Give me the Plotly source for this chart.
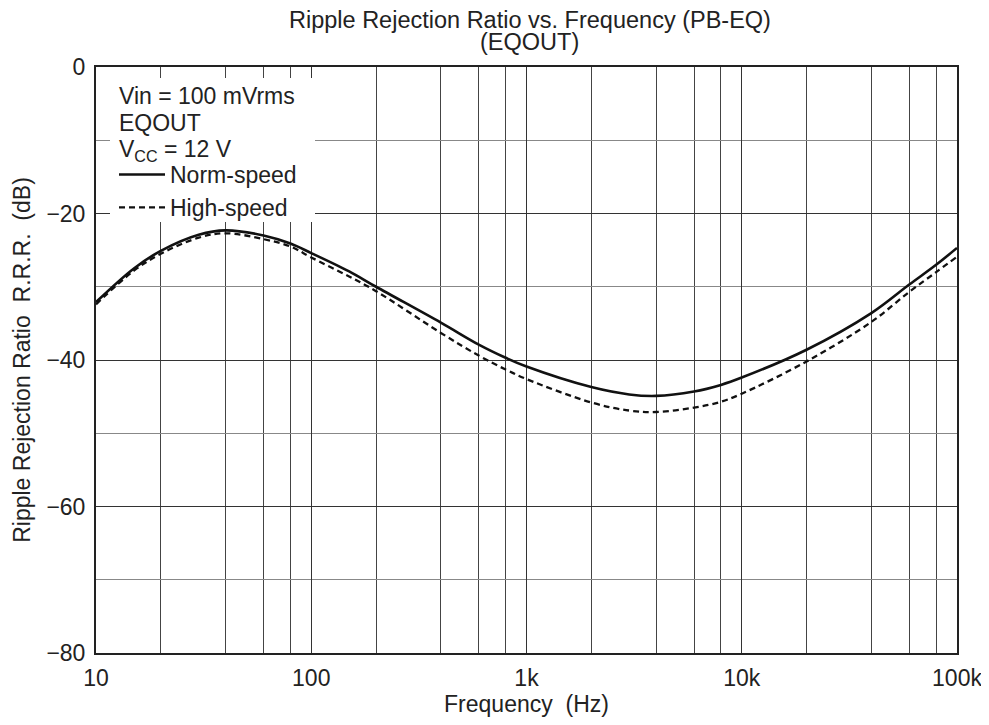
import plotly.graph_objects as go

# Data
freq_hz = [10, 15, 20, 30, 40, 60, 80, 100, 150, 200, 400, 600, 800, 1000, 2000, 3000,
           4000, 6000, 8000, 10000, 20000, 40000, 60000, 80000, 100000]
norm_speed_db = [-32.1, -27.5, -25.1, -22.9, -22.3, -23.0, -24.1, -25.4, -27.9, -30.0,
                 -34.9, -37.9, -39.7, -40.9, -43.7, -44.7, -44.9, -44.3, -43.4, -42.4,
                 -38.6, -33.6, -29.7, -27.0, -24.7]
high_speed_db = [-32.4, -27.8, -25.5, -23.3, -22.7, -23.5, -24.5, -26.0, -28.6, -30.6,
                 -36.3, -39.4, -41.3, -42.6, -45.8, -46.9, -47.1, -46.5, -45.7, -44.6,
                 -40.2, -34.8, -30.7, -28.0, -25.9]

x_tickvals = [10, 100, 1000, 10000, 100000]
x_ticktext = ["10", "100", "1k", "10k", "100k"]
x_minorvals = [m * d for d in (10, 100, 1000, 10000) for m in (2, 4, 6, 8)]
y_tickvals = [0, -20, -40, -60, -80]
y_ticktext = ["0", "\u221220", "\u221240", "\u221260", "\u221280"]

title_lines = ["Ripple Rejection Ratio vs. Frequency (PB-EQ)", "(EQOUT)"]
note_lines = ["Vin = 100 mVrms", "EQOUT", "V<sub>CC</sub> = 12 V"]

FONT = "Liberation Sans, Arial, sans-serif"
TXT = "#222222"
FS = 23

# The page body adds an 8px margin, so the figure is laid out 8px smaller
OFF = 8
W, H = 989 - OFF, 725 - OFF
L, T = 96 - OFF, 67 - OFF
R, B = 989 - 957, 725 - 653
PW, PH = W - L - R, H - T - B


def px_x(p):  # page pixel -> paper x
    return (p - OFF - L) / PW


def px_y(p):  # page pixel -> paper y
    return 1 - (p - OFF - T) / PH


fig = go.Figure()
fig.add_trace(go.Scatter(x=freq_hz, y=norm_speed_db, mode="lines", name="Norm-speed",
                         line=dict(color="#111111", width=2.6, shape="spline", smoothing=1.0)))
fig.add_trace(go.Scatter(x=freq_hz, y=high_speed_db, mode="lines", name="High-speed",
                         line=dict(color="#111111", width=2.3, dash="6px,4px", shape="spline",
                                   smoothing=1.0)))

annotations = []
for txt, yc in zip(title_lines, (20, 42)):
    annotations.append(dict(text=txt, xref="paper", yref="paper", x=px_x(529.5), y=px_y(yc),
                            xanchor="center", yanchor="middle", showarrow=False,
                            font=dict(family=FONT, size=23.5, color=TXT)))
for txt, yc in zip(note_lines, (96, 123, 150)):
    annotations.append(dict(text=txt, xref="paper", yref="paper", x=px_x(117), y=px_y(yc),
                            xanchor="left", yanchor="middle", showarrow=False,
                            font=dict(family=FONT, size=FS, color=TXT)))

fig.update_layout(
    width=W, height=H,
    margin=dict(l=L, r=R, t=T, b=B, autoexpand=False),
    paper_bgcolor="white", plot_bgcolor="white",
    font=dict(family=FONT, size=FS, color=TXT),
    showlegend=True,
    legend=dict(
        x=px_x(114), y=px_y(153), xanchor="left", yanchor="top",
        bgcolor="rgba(0,0,0,0)", borderwidth=0,
        font=dict(size=FS, family=FONT, color=TXT),
        tracegroupgap=0, itemwidth=46,
    ),
    annotations=annotations,
    # white box behind the note/legend block that hides the grid (curves stay below it)
    shapes=[dict(type="rect", xref="paper", yref="paper", layer="above",
                 x0=px_x(110), x1=px_x(315), y0=px_y(222), y1=px_y(78),
                 fillcolor="white", line=dict(width=0))],
)

fig.update_xaxes(
    type="log", range=[1, 5], automargin=False,
    tickmode="array", tickvals=x_tickvals, ticktext=x_ticktext,
    showgrid=True, gridcolor="#333333", gridwidth=1,
    minor=dict(tickmode="array", tickvals=x_minorvals, showgrid=True,
               gridcolor="#444444", gridwidth=1, ticks=""),
    showline=True, linecolor="#222222", linewidth=2, mirror=True,
    ticks="", tickfont=dict(size=FS), ticklabelstandoff=3,
    title=dict(text="Frequency\u00a0\u00a0(Hz)", font=dict(size=FS), standoff=4),
    zeroline=False,
)
fig.update_yaxes(
    range=[-80, 0], automargin=False,
    tickmode="array", tickvals=y_tickvals, ticktext=y_ticktext,
    showgrid=True, gridcolor="#333333", gridwidth=1,
    minor=dict(dtick=10, tick0=0, showgrid=True, gridcolor="#888888", gridwidth=1.2, ticks=""),
    showline=True, linecolor="#222222", linewidth=2, mirror=True,
    ticks="", tickfont=dict(size=FS), ticklabelstandoff=4,
    title=dict(text="Ripple Rejection Ratio\u00a0\u00a0R.R.R.\u00a0\u00a0(dB)", font=dict(size=FS),
               standoff=9),
    zeroline=False,
)

fig.write_html("out.html")
